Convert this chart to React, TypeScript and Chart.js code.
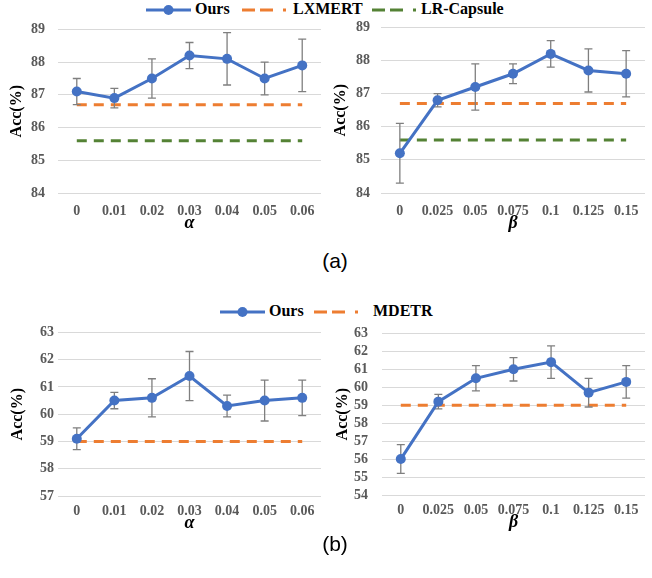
import React, { useEffect, useRef } from "react";
import { Chart, registerables } from "chart.js";

Chart.register(...registerables);

// ---------- data ----------
const alphaLabels = ["0", "0.01", "0.02", "0.03", "0.04", "0.05", "0.06"];
const betaLabels = ["0", "0.025", "0.05", "0.075", "0.1", "0.125", "0.15"];

const vqaAlphaOurs = [87.1, 86.9, 87.5, 88.2, 88.1, 87.5, 87.9];
const vqaAlphaErr = [0.4, 0.3, 0.6, 0.4, 0.8, 0.5, 0.8];
const vqaBetaOurs = [85.2, 86.8, 87.2, 87.6, 88.2, 87.7, 87.6];
const vqaBetaErr = [0.9, 0.2, 0.7, 0.3, 0.4, 0.65, 0.7];
const lxmertLine = [86.7, 86.7, 86.7, 86.7, 86.7, 86.7, 86.7];
const lrCapsuleLine = [85.6, 85.6, 85.6, 85.6, 85.6, 85.6, 85.6];

const refAlphaOurs = [59.1, 60.5, 60.6, 61.4, 60.3, 60.5, 60.6];
const refAlphaErr = [0.4, 0.3, 0.7, 0.9, 0.4, 0.75, 0.65];
const refBetaOurs = [56.0, 59.2, 60.5, 61.0, 61.4, 59.7, 60.3];
const refBetaErr = [0.8, 0.4, 0.7, 0.65, 0.9, 0.8, 0.9];
const mdetrLine = [59, 59, 59, 59, 59, 59, 59];

const BLUE = "#4472C4";
const ORANGE = "#ED7D31";
const GREEN = "#548235";
const SERIF = "'Liberation Serif', 'Times New Roman', serif";

const errorBarPlugin = {
  id: "errorBars",
  beforeDatasetDraw(chart: any, args: any, opts: any) {
    if (args.index !== 0 || !opts || !opts.errors) return;
    const errs: number[] = opts.errors;
    const xs = chart.scales.x;
    const ys = chart.scales.y;
    const data: number[] = chart.data.datasets[0].data;
    const ctx = chart.ctx;
    ctx.save();
    ctx.strokeStyle = "#7f7f7f";
    ctx.lineWidth = 1.3;
    data.forEach((v, i) => {
      const px = xs.getPixelForValue(i);
      const yt = ys.getPixelForValue(v + errs[i]);
      const yb = ys.getPixelForValue(v - errs[i]);
      ctx.beginPath();
      ctx.moveTo(px, yt);
      ctx.lineTo(px, yb);
      ctx.moveTo(px - 4, yt);
      ctx.lineTo(px + 4, yt);
      ctx.moveTo(px - 4, yb);
      ctx.lineTo(px + 4, yb);
      ctx.stroke();
    });
    ctx.restore();
  },
};

type PanelProps = {
  labels: string[];
  ours: number[];
  errs: number[];
  baselines: { data: number[]; color: string }[];
  yMin: number;
  yMax: number;
  xTitle: string;
  left: number;
  top: number;
  width: number;
  height: number;
  yWidth: number;
  yTitlePad: number;
  yTickPad: number;
  xHeight: number;
  xTickPad: number;
  padTop: number;
  padRight: number;
};

function Panel(p: PanelProps) {
  const ref = useRef<HTMLCanvasElement>(null);
  useEffect(() => {
    if (!ref.current) return;
    const datasets: any[] = [
      {
        label: "Ours",
        data: p.ours,
        borderColor: BLUE,
        backgroundColor: BLUE,
        borderWidth: 3,
        pointRadius: 5,
        pointBorderWidth: 0,
        pointBackgroundColor: BLUE,
        tension: 0,
      },
      ...p.baselines.map((b) => ({
        label: "base",
        data: b.data,
        borderColor: b.color,
        borderWidth: 3,
        borderDash: [10, 7],
        pointRadius: 0,
        tension: 0,
      })),
    ];
    const chart = new Chart(ref.current, {
      type: "line",
      data: { labels: p.labels, datasets },
      plugins: [errorBarPlugin as any],
      options: {
        animation: false,
        responsive: false,
        layout: { padding: { top: p.padTop, right: p.padRight, left: 0, bottom: 0 } },
        plugins: {
          legend: { display: false },
          tooltip: { enabled: false },
          errorBars: { errors: p.errs },
        } as any,
        scales: {
          x: {
            offset: true,
            grid: { display: false, drawTicks: false },
            border: { display: false },
            ticks: {
              padding: p.xTickPad,
              color: "#595959",
              font: { family: SERIF, size: 14, weight: "bold" },
              maxRotation: 0,
              autoSkip: false,
            },
            title: {
              display: true,
              text: p.xTitle,
              color: "#000",
              padding: { top: 0, bottom: 0 },
              font: { family: SERIF, size: 18, weight: "bold", style: "italic" },
            },
            afterFit: (s: any) => {
              s.height = p.xHeight;
            },
          },
          y: {
            min: p.yMin,
            max: p.yMax,
            grid: { color: "#d9d9d9", lineWidth: 1, drawTicks: false },
            border: { display: false },
            ticks: {
              stepSize: 1,
              autoSkip: false,
              padding: p.yTickPad,
              color: "#595959",
              font: { family: SERIF, size: 14, weight: "bold" },
            },
            title: {
              display: true,
              text: "Acc(%)",
              color: "#000",
              padding: { top: p.yTitlePad, bottom: 0 },
              font: { family: SERIF, size: 16, weight: "bold" },
            },
            afterFit: (s: any) => {
              s.width = p.yWidth;
            },
          },
        },
      } as any,
    });
    return () => chart.destroy();
  }, []);
  return (
    <canvas
      ref={ref}
      width={p.width}
      height={p.height}
      style={{ position: "absolute", left: p.left, top: p.top, width: p.width, height: p.height }}
    />
  );
}

function LegendLine({ x, y, color, marker }: { x: number; y: number; color: string; marker?: boolean }) {
  return (
    <svg
      width={50}
      height={14}
      style={{ position: "absolute", left: x, top: y - 7, overflow: "visible" }}
    >
      {marker ? (
        <>
          <line x1={0} y1={7} x2={45} y2={7} stroke={color} strokeWidth={3} />
          <circle cx={22.5} cy={7} r={5} fill={color} />
        </>
      ) : (
        <line x1={0} y1={7} x2={46} y2={7} stroke={color} strokeWidth={3} strokeDasharray="13 5 13 10 3 20" />
      )}
    </svg>
  );
}

function LegendText({ x, y, text }: { x: number; y: number; text: string }) {
  return (
    <div
      style={{
        position: "absolute",
        left: x,
        top: y - 10,
        height: 20,
        lineHeight: "20px",
        font: `bold 16px ${SERIF}`,
        color: "#000",
        whiteSpace: "nowrap",
      }}
    >
      {text}
    </div>
  );
}

function Caption({ y, text }: { y: number; text: string }) {
  return (
    <div
      style={{
        position: "absolute",
        left: 0,
        width: 670,
        top: y - 13,
        height: 26,
        lineHeight: "26px",
        textAlign: "center",
        font: "21px 'Liberation Sans', Arial, sans-serif",
        color: "#000",
      }}
    >
      {text}
    </div>
  );
}

export default function App() {
  return (
    <div style={{ position: "absolute", left: 0, top: 0, width: 652, height: 578, background: "#fff", overflow: "hidden" }}>
      {/* top legend */}
      <LegendLine x={146} y={10} color={BLUE} marker />
      <LegendText x={195} y={10} text="Ours" />
      <LegendLine x={242} y={10} color={ORANGE} />
      <LegendText x={293} y={10} text="LXMERT" />
      <LegendLine x={372} y={10} color={GREEN} />
      <LegendText x={421} y={10} text="LR-Capsule" />

      <Panel
        labels={alphaLabels}
        ours={vqaAlphaOurs}
        errs={vqaAlphaErr}
        baselines={[
          { data: lxmertLine, color: ORANGE },
          { data: lrCapsuleLine, color: GREEN },
        ]}
        yMin={84}
        yMax={89}
        xTitle="α"
        left={0}
        top={8}
        width={326}
        height={226}
        yWidth={58}
        yTitlePad={7}
        yTickPad={13}
        xHeight={41}
        xTickPad={10}
        padTop={12}
        padRight={4}
      />
      <Panel
        labels={betaLabels}
        ours={vqaBetaOurs}
        errs={vqaBetaErr}
        baselines={[
          { data: lxmertLine, color: ORANGE },
          { data: lrCapsuleLine, color: GREEN },
        ]}
        yMin={84}
        yMax={89}
        xTitle="β"
        left={326}
        top={8}
        width={326}
        height={226}
        yWidth={55}
        yTitlePad={5}
        yTickPad={11}
        xHeight={41}
        xTickPad={10}
        padTop={12}
        padRight={7}
      />

      <Caption y={262} text="(a)" />

      {/* bottom legend */}
      <LegendLine x={220} y={312} color={BLUE} marker />
      <LegendText x={269} y={312} text="Ours" />
      <LegendLine x={314} y={312} color={ORANGE} />
      <LegendText x={373} y={312} text="MDETR" />

      <Panel
        labels={alphaLabels}
        ours={refAlphaOurs}
        errs={refAlphaErr}
        baselines={[{ data: mdetrLine, color: ORANGE }]}
        yMin={57}
        yMax={63}
        xTitle="α"
        left={0}
        top={320}
        width={326}
        height={214}
        yWidth={58}
        yTitlePad={8}
        yTickPad={4}
        xHeight={38}
        xTickPad={7}
        padTop={12}
        padRight={4}
      />
      <Panel
        labels={betaLabels}
        ours={refBetaOurs}
        errs={refBetaErr}
        baselines={[{ data: mdetrLine, color: ORANGE }]}
        yMin={54}
        yMax={63}
        xTitle="β"
        left={326}
        top={311}
        width={326}
        height={222}
        yWidth={56}
        yTitlePad={7}
        yTickPad={14}
        xHeight={38}
        xTickPad={7}
        padTop={12}
        padRight={7}
      />

      <Caption y={545} text="(b)" />
    </div>
  );
}
